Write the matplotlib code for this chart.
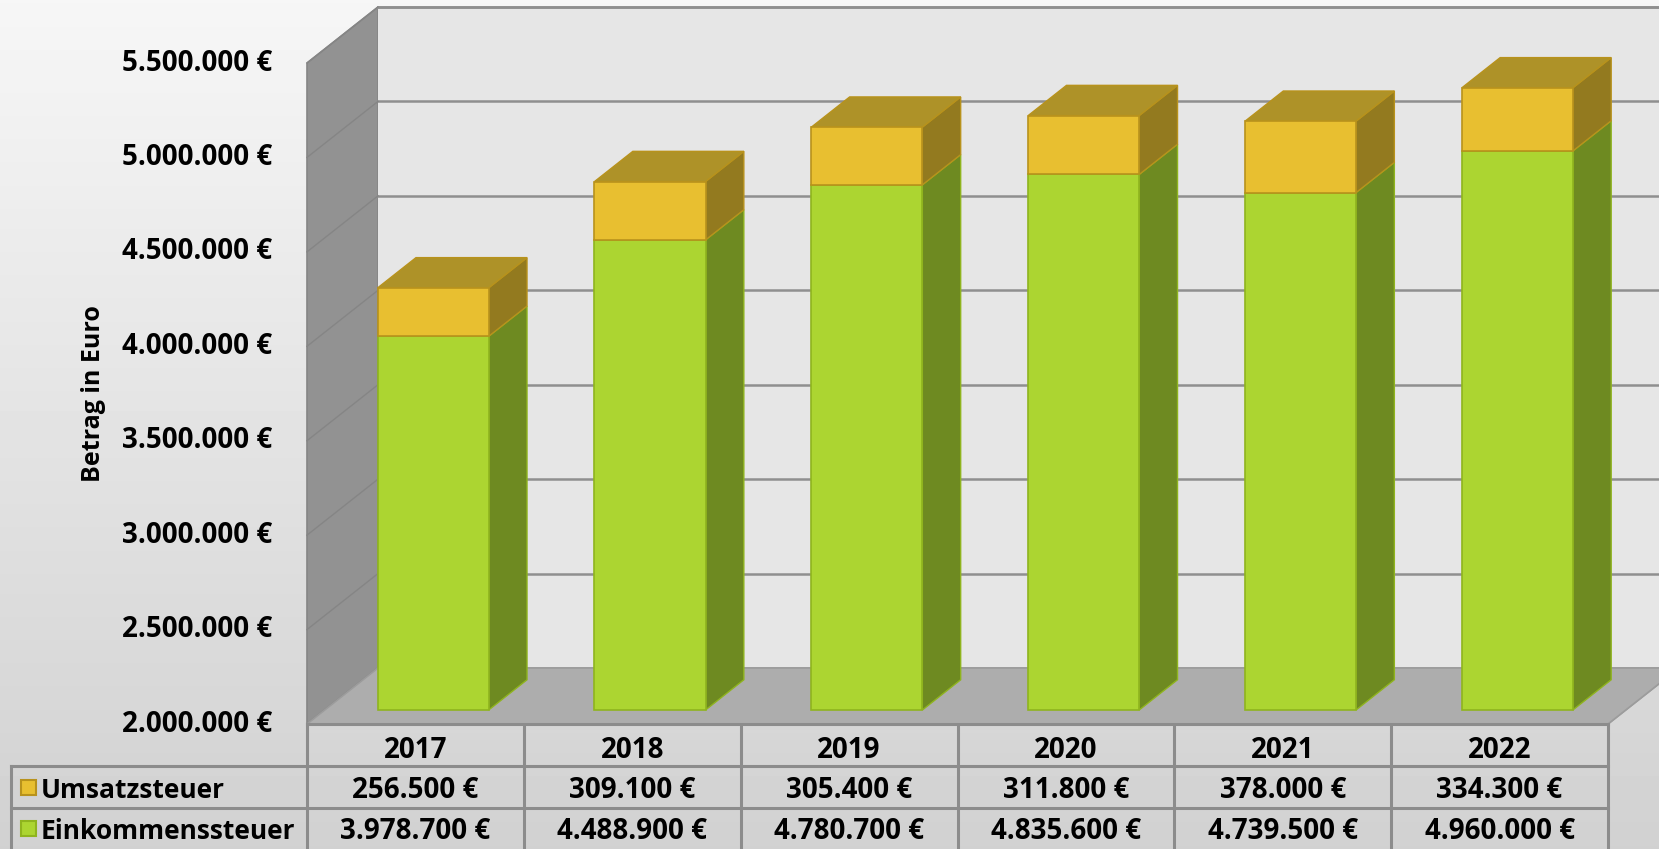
import numpy as np
import matplotlib
matplotlib.use("Agg")
import matplotlib.pyplot as plt
from matplotlib.patches import Polygon, Rectangle
from matplotlib.transforms import blended_transform_factory

# data
years = ["2017", "2018", "2019", "2020", "2021", "2022"]
einkommen = [3978700, 4488900, 4780700, 4835600, 4739500, 4960000]
umsatz = [256500, 309100, 305400, 311800, 378000, 334300]
ticks = [2000000, 2500000, 3000000, 3500000, 4000000, 4500000, 5000000, 5500000]
series_names = ["Umsatzsteuer", "Einkommenssteuer"]

plt.rcParams["font.family"] = ["Open Sans", "DejaVu Sans"]
plt.rcParams["font.weight"] = "bold"
FS = 20

W, H = 1659, 849
fig = plt.figure(figsize=(W / 100, H / 100), dpi=100)

# background gradient
bg = fig.add_axes([0, 0, 1, 1], zorder=-5)
grad = np.linspace(0.965, 0.82, 256)[:, None] * np.ones((1, 4))
bg.imshow(grad, cmap="gray", vmin=0, vmax=1, aspect="auto", extent=[0, 1, 0, 1])
bg.axis("off")


def euro(v):
    return f"{v:,.0f}".replace(",", ".") + " €"


# pixel layout of the front plane
x_left_px, x_right_px = 307, 1608
y_base_px, y_top_px = 724, 63
ymin, ymax = 2000000, 5500000
sx = (x_right_px - x_left_px) / len(years)
sy = (y_base_px - y_top_px) / (ymax - ymin)

ax = fig.add_axes([0, 0, 1, 1])
ax.set_xlim(-0.5 - x_left_px / sx, -0.5 + (W - x_left_px) / sx)
ax.set_ylim(ymin - (H - y_base_px) / sy, ymin + y_base_px / sy)
ax.axis("off")
ax.patch.set_alpha(0)

DX = 71 / sx
DY = 56 / sy
n = len(years)
x0, x1 = -0.5, n - 0.5

# walls and floor
ax.add_patch(Polygon([(x0, ymin), (x0, ymax), (x0 + DX, ymax + DY), (x0 + DX, ymin + DY)],
                     closed=True, facecolor="#929292", edgecolor="#858585", lw=1.2, zorder=1))
ax.add_patch(Polygon([(x0 + DX, ymin + DY), (x0 + DX, ymax + DY), (x1 + DX + 2, ymax + DY), (x1 + DX + 2, ymin + DY)],
                     closed=True, facecolor="#e6e6e6", edgecolor="none", zorder=1))
ax.plot([x0 + DX, x1 + DX + 2], [ymax + DY, ymax + DY], color="#999999", lw=2, zorder=2)
for t in ticks:
    ax.plot([x0 + DX, x1 + DX + 2], [t + DY, t + DY], color="#8f8f8f", lw=1.8, zorder=2)
    ax.plot([x0, x0 + DX], [t, t + DY], color="#858585", lw=1, zorder=2)
ax.add_patch(Polygon([(x0, ymin), (x0 + DX, ymin + DY), (x1 + DX, ymin + DY), (x1, ymin)],
                     closed=True, facecolor="#adadad", edgecolor="#9c9c9c", lw=1.2, zorder=3))

# bars
f0, f1 = 0.25, 0.79
width = 0.512
dd, ddy = (f1 - f0) * DX, (f1 - f0) * DY
green, green_side, green_edge = "#acd531", "#6e8a21", "#8fb41e"
yel, yel_side, yel_top, yel_edge = "#e8bf30", "#937a1f", "#ae9228", "#b8921c"

xs = np.arange(n) + f0 * DX
base = ymin + f0 * DY
ax.bar(xs, np.array(einkommen) - ymin, width, bottom=base, color=green, edgecolor=green_edge, lw=1.2, zorder=5)
ax.bar(xs, umsatz, width, bottom=np.array(einkommen) + f0 * DY, color=yel, edgecolor=yel_edge, lw=1.2, zorder=5)

for i in range(n):
    xl, xr = xs[i] - width / 2, xs[i] + width / 2
    yb = base
    ym = einkommen[i] + f0 * DY
    yt = einkommen[i] + umsatz[i] + f0 * DY
    ax.add_patch(Polygon([(xr, yb), (xr + dd, yb + ddy), (xr + dd, ym + ddy), (xr, ym)],
                         closed=True, facecolor=green_side, edgecolor=green_edge, lw=1, zorder=4))
    ax.add_patch(Polygon([(xr, ym), (xr + dd, ym + ddy), (xr + dd, yt + ddy), (xr, yt)],
                         closed=True, facecolor=yel_side, edgecolor=yel_edge, lw=1, zorder=4))
    ax.add_patch(Polygon([(xl, yt), (xr, yt), (xr + dd, yt + ddy), (xl + dd, yt + ddy)],
                         closed=True, facecolor=yel_top, edgecolor=yel_edge, lw=1, zorder=4))

# y tick labels
lab_x = x0 - (x_left_px - 272) / sx
for t in ticks:
    ax.text(lab_x, t, euro(t), ha="right", va="center", fontsize=FS, fontweight="bold", color="black")
ax.text(x0 - (x_left_px - 93) / sx, ymin + (y_base_px - 394) / sy, "Betrag in Euro",
        rotation=90, ha="center", va="center", fontsize=18, fontweight="bold")

# data table
tr = blended_transform_factory(ax.transData, fig.transFigure)
rows = [1 - 724 / H, 1 - 766 / H, 1 - 808 / H, 0.0]
tab_left = x0 - (x_left_px - 11) / sx
lc = "#8c8c8c"
ax.plot([x0, x1], [rows[0]] * 2, color=lc, lw=2.2, transform=tr, zorder=6)
for r in rows[1:3]:
    ax.plot([tab_left, x1], [r, r], color=lc, lw=2.2, transform=tr)
for k in range(n + 1):
    ax.plot([x0 + k, x0 + k], [rows[0], 0], color=lc, lw=2.2, transform=tr)
ax.plot([tab_left, tab_left], [rows[1], 0], color=lc, lw=2.2, transform=tr)
ax.plot([x1, x1 + DX], [rows[0], rows[0] + 56 / H], color="#9c9c9c", lw=1.2, transform=tr)

off = 6 / H
for i, yr in enumerate(years):
    ax.text(i, (rows[0] + rows[1]) / 2 - off, yr, ha="center", va="center", fontsize=FS,
            fontweight="bold", transform=tr)
    ax.text(i, (rows[1] + rows[2]) / 2 - off / 2, euro(umsatz[i]), ha="center", va="center", fontsize=FS,
            fontweight="bold", transform=tr)
    ax.text(i, (rows[2] + rows[3]) / 2 - off / 2, euro(einkommen[i]), ha="center", va="center", fontsize=FS,
            fontweight="bold", transform=tr)

key_w = 15 / sx
key_h = 15 / H
for j, (name, fc, ec) in enumerate([(series_names[0], yel, yel_edge), (series_names[1], green, green_edge)]):
    yc = (rows[j + 1] + rows[j + 2]) / 2
    ax.add_patch(Rectangle((tab_left + 10 / sx, yc - key_h / 2), key_w, key_h, facecolor=fc,
                           edgecolor=ec, lw=1.5, transform=tr))
    ax.text(tab_left + 30 / sx, yc - off / 2, name, ha="left", va="center", fontsize=19,
            fontweight="bold", transform=tr)

fig.savefig("out.png", dpi=100)
